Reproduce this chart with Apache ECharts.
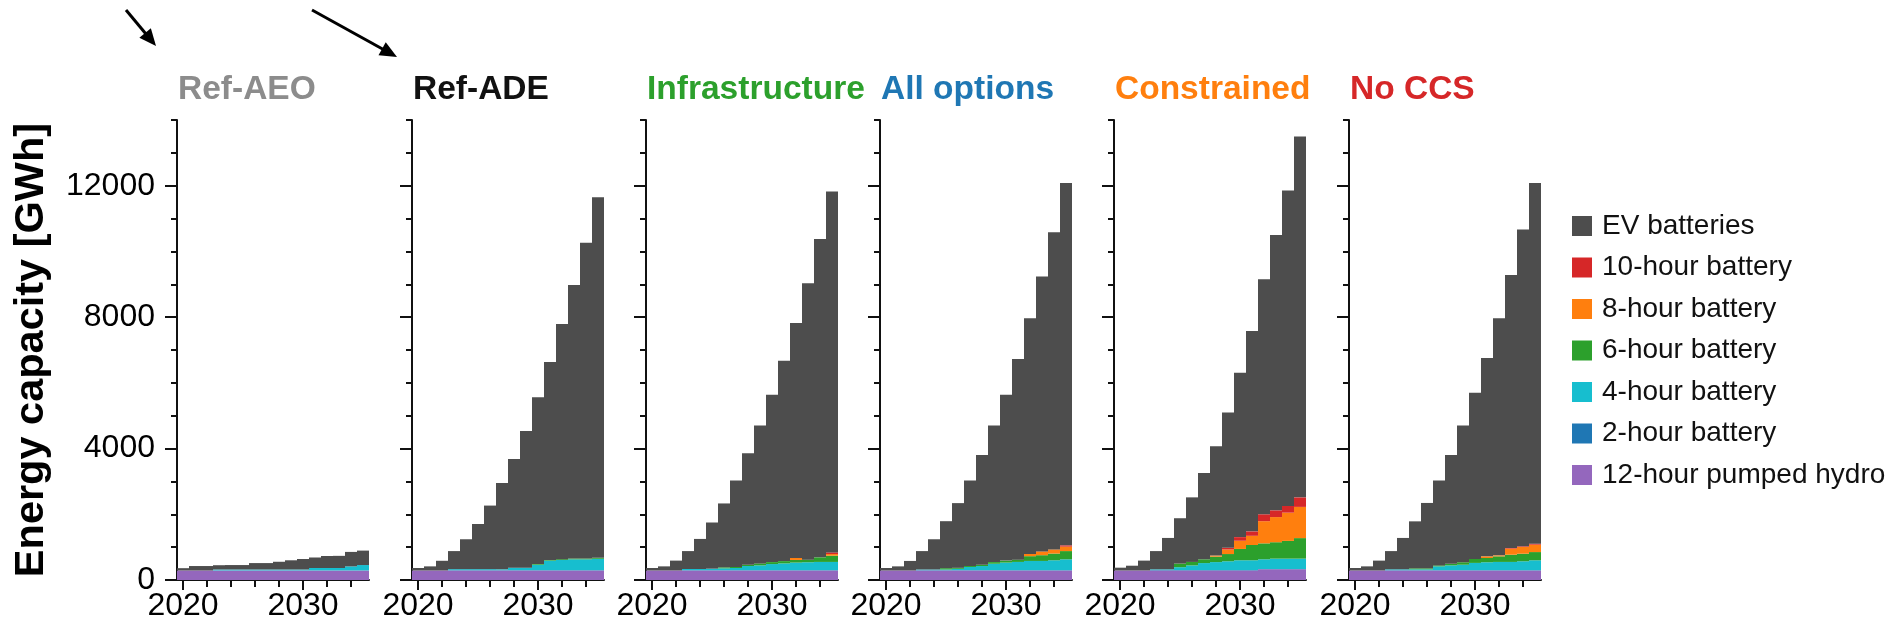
<!DOCTYPE html>
<html>
<head>
<meta charset="utf-8">
<script src="https://cdn.jsdelivr.net/npm/echarts@6/dist/echarts.min.js"></script>
<style>
  html, body { margin: 0; padding: 0; background: #ffffff; }
  #chart { width: 1887px; height: 633px; }
</style>
</head>
<body>
<div id="chart"></div>
<script>
// ---- categories, labels and tick values ----
const years = ['2020','2021','2022','2023','2024','2025','2026','2027','2028','2029','2030','2031','2032','2033','2034','2035'];
const xTickYears = ['2020','2022','2024','2026','2028','2030','2032','2034'];
const xLabelYears = ['2020','2030'];
const yMinorTicks = [0,1000,2000,3000,4000,5000,6000,7000,8000,9000,10000,11000,12000,13000,14000];
const yMajorTicks = [0,4000,8000,12000];
const yLabelValues = [0,4000,8000,12000];

const scenarios = ['Ref-AEO','Ref-ADE','Infrastructure','All options','Constrained','No CCS'];
const scenarioColors = ['#8c8c8c','#111111','#2ca02c','#1f77b4','#ff7f0e','#d62728'];

// stacking order, bottom to top
const techNames = ['12-hour pumped hydro','2-hour battery','4-hour battery','6-hour battery','8-hour battery','10-hour battery','EV batteries'];
const techColors = ['#9467bd','#1f77b4','#17becf','#2ca02c','#ff7f0e','#d62728','#4d4d4d'];
const legendOrder = ['EV batteries','10-hour battery','8-hour battery','6-hour battery','4-hour battery','2-hour battery','12-hour pumped hydro'];

// ---- energy capacity [GWh] by year ----
// Ref-AEO
const aeoHydro = [290,290,290,290,290,290,290,290,290,290,290,290,290,290,290,290];
const aeoH2    = [0,0,0,0,0,0,0,0,0,0,0,0,0,0,0,0];
const aeoH4    = [0,0,0,30,30,30,30,30,30,30,30,75,75,75,125,165];
const aeoH6    = [0,0,0,0,0,0,0,0,0,0,0,0,0,0,0,0];
const aeoH8    = [0,0,0,0,0,0,0,0,0,0,0,0,0,0,0,0];
const aeoH10   = [0,0,0,0,0,0,0,0,0,0,0,0,0,0,0,0];
const aeoEV    = [70,135,135,130,135,135,195,195,235,280,320,320,365,370,440,440];

// Ref-ADE
const adeHydro = [290,290,290,290,290,290,290,290,290,290,290,290,290,290,290,290];
const adeH2    = [0,0,0,10,10,10,10,10,10,10,10,10,10,10,10,10];
const adeH4    = [0,0,0,30,30,30,30,25,75,75,165,290,310,330,330,345];
const adeH6    = [0,0,0,0,0,0,0,0,0,0,25,20,25,25,25,30];
const adeH8    = [0,0,0,0,0,0,0,0,0,0,0,0,0,0,0,0];
const adeH10   = [0,0,0,0,0,0,0,0,0,0,0,0,0,0,0,0];
const adeEV    = [75,125,295,550,910,1375,1935,2625,3310,4160,5070,6025,7155,8325,9610,10975];

// Infrastructure
const infHydro = [290,290,290,290,290,290,290,290,290,290,290,290,290,290,290,290];
const infH2    = [0,0,0,10,10,10,10,10,10,10,10,10,10,10,10,10];
const infH4    = [0,0,0,35,35,45,55,65,125,145,185,205,230,240,250,250];
const infH6    = [0,0,0,0,0,0,30,30,40,60,60,70,80,80,140,190];
const infH8    = [0,0,0,0,0,0,0,0,0,0,0,0,60,0,0,50];
const infH10   = [0,0,0,0,0,0,0,0,0,0,0,0,0,0,0,50];
const infEV    = [75,125,300,545,915,1405,1945,2635,3395,4200,5095,6100,7150,8410,9685,10985];

// All options
const allHydro = [290,290,290,290,290,290,290,290,290,290,290,290,290,290,290,290];
const allH2    = [0,0,0,10,10,10,10,10,10,10,10,10,10,10,10,10];
const allH4    = [0,0,0,20,20,20,40,95,125,195,230,250,280,280,300,330];
const allH6    = [0,0,0,0,0,40,30,30,40,50,60,70,145,175,205,250];
const allH8    = [0,0,0,0,0,0,0,0,0,0,0,0,70,115,125,135];
const allH10   = [0,0,0,0,0,0,0,0,0,0,0,0,0,0,0,40];
const allEV    = [75,125,290,560,920,1430,1970,2605,3340,4160,5050,6105,7170,8370,9655,11030];

// Constrained
const conHydro = [290,290,290,290,290,290,290,290,290,290,290,290,330,330,330,330];
const conH2    = [0,0,0,15,15,15,15,15,15,15,15,15,0,0,0,0];
const conH4    = [0,0,0,20,20,85,140,210,240,265,295,295,300,320,320,320];
const conH6    = [0,0,0,0,0,110,105,115,165,220,345,465,485,500,540,625];
const conH8    = [0,0,0,0,0,0,0,0,35,140,250,280,675,765,860,950];
const conH10   = [0,0,0,0,0,0,0,0,0,50,110,135,210,205,205,290];
const conEV    = [85,145,300,555,955,1380,1965,2630,3325,4120,5005,6100,7155,8380,9600,10985];

// No CCS
const nccHydro = [290,290,290,290,290,290,290,290,290,290,290,290,290,290,290,290];
const nccH2    = [0,0,0,10,10,10,10,10,10,10,10,10,10,10,10,10];
const nccH4    = [0,0,0,25,25,25,25,115,145,165,220,240,250,250,270,300];
const nccH6    = [0,0,0,0,0,30,30,30,50,75,120,130,170,220,230,250];
const nccH8    = [0,0,0,0,0,0,0,0,0,0,0,50,30,185,205,225];
const nccH10   = [0,0,0,0,0,0,0,0,0,0,0,0,0,20,20,30];
const nccEV    = [75,125,300,555,955,1430,1990,2585,3310,4165,5060,6035,7215,8305,9640,10980];

const panelData = [
  [aeoHydro, aeoH2, aeoH4, aeoH6, aeoH8, aeoH10, aeoEV],
  [adeHydro, adeH2, adeH4, adeH6, adeH8, adeH10, adeEV],
  [infHydro, infH2, infH4, infH6, infH8, infH10, infEV],
  [allHydro, allH2, allH4, allH6, allH8, allH10, allEV],
  [conHydro, conH2, conH4, conH6, conH8, conH10, conEV],
  [nccHydro, nccH2, nccH4, nccH6, nccH8, nccH10, nccEV]
];

// ---- layout ----
// Panels sit on whole pixels with a 12px band per year, so neighbouring
// bars share crisp edges and the stacks read as continuous steps.
const FONT = '"Liberation Sans", Arial, Helvetica, sans-serif';
const INK = '#111111';
const gridLefts = [177, 412, 646, 880, 1114, 1349];
const gridWidth = 192;
const gridTop = 120;
const gridHeight = 460;

const grids = [], xAxes = [], yAxes = [], series = [], titles = [];

gridLefts.forEach((left, p) => {
  grids.push({ left: left, top: gridTop, width: gridWidth, height: gridHeight });

  titles.push({
    text: scenarios[p], left: left + 1, top: 73, padding: 0,
    textStyle: { fontFamily: FONT, fontSize: 33.5, fontWeight: 'bold', color: scenarioColors[p] }
  });

  // main x axis: line + short ticks every two years
  xAxes.push({
    type: 'category', gridIndex: p, data: years, position: 'bottom', boundaryGap: true,
    axisLine: { show: true, lineStyle: { color: INK, width: 2 } },
    axisTick: { show: true, alignWithLabel: true, length: 7, lineStyle: { color: INK, width: 2 },
                interval: (i, v) => xTickYears.includes(v) },
    axisLabel: { show: false },
    splitLine: { show: false }
  });
  // decade x axis: longer ticks + labels
  xAxes.push({
    type: 'category', gridIndex: p, data: years, position: 'bottom', boundaryGap: true,
    axisLine: { show: false },
    axisTick: { show: true, alignWithLabel: true, length: 10, lineStyle: { color: INK, width: 2 },
                interval: (i, v) => xLabelYears.includes(v) },
    axisLabel: { show: true, interval: (i, v) => xLabelYears.includes(v), margin: 10,
                 fontFamily: FONT, fontSize: 32, color: '#000' },
    splitLine: { show: false }
  });

  // main y axis: line + minor ticks every 1000
  yAxes.push({
    type: 'value', gridIndex: p, min: 0, max: 14000, position: 'left',
    axisLine: { show: true, lineStyle: { color: INK, width: 2 } },
    axisTick: { show: true, length: 6, lineStyle: { color: INK, width: 2 }, customValues: yMinorTicks },
    axisLabel: { show: p === 0, customValues: yLabelValues, margin: 22,
                 formatter: (v) => String(v),
                 fontFamily: FONT, fontSize: 32, color: '#000' },
    splitLine: { show: false },
    name: p === 0 ? 'Energy capacity [GWh]' : '',
    nameLocation: 'middle', nameGap: 124,
    nameTextStyle: { fontFamily: FONT, fontSize: 41.5, fontWeight: 'bold', color: '#000' }
  });
  // major y ticks every 4000
  yAxes.push({
    type: 'value', gridIndex: p, min: 0, max: 14000, position: 'left',
    axisLine: { show: false },
    axisTick: { show: true, length: 12, lineStyle: { color: INK, width: 2 }, customValues: yMajorTicks },
    axisLabel: { show: false },
    splitLine: { show: false }
  });

  techNames.forEach((name, k) => {
    series.push({
      type: 'bar', name: name, stack: 'panel' + p,
      xAxisIndex: p * 2, yAxisIndex: p * 2,
      data: panelData[p][k],
      barWidth: '100%', barCategoryGap: '0%',
      itemStyle: { color: techColors[k], borderWidth: 0 },
      emphasis: { disabled: true },
      silent: true
    });
  });
});

// ---- pointer arrows above the first two panels ----
function arrowParts(x1, y1, x2, y2) {
  const dx = x2 - x1, dy = y2 - y1, len = Math.hypot(dx, dy);
  const ux = dx / len, uy = dy / len;
  const headLen = 17, halfW = 7.5;
  const bx = x2 - ux * headLen, by = y2 - uy * headLen;
  return [
    { type: 'line', shape: { x1: x1, y1: y1, x2: bx + ux * 2, y2: by + uy * 2 },
      style: { stroke: '#000', lineWidth: 3 } },
    { type: 'polygon', shape: { points: [[x2, y2], [bx - uy * halfW, by + ux * halfW], [bx + uy * halfW, by - ux * halfW]] },
      style: { fill: '#000' } }
  ];
}
const graphics = [].concat(arrowParts(126, 10, 156, 46), arrowParts(312, 10, 397, 57));

const chart = echarts.init(document.getElementById('chart'), null, { renderer: 'canvas' });
chart.setOption({
  animation: false,
  backgroundColor: '#ffffff',
  title: titles,
  grid: grids,
  xAxis: xAxes,
  yAxis: yAxes,
  series: series,
  graphic: graphics,
  legend: {
    data: legendOrder, orient: 'vertical', left: 1567, top: 207,
    icon: 'rect', itemWidth: 20, itemHeight: 20, itemGap: 13.5,
    selectedMode: false,
    textStyle: { fontFamily: FONT, fontSize: 28, color: '#111', lineHeight: 28, padding: [0, 0, 0, 5] }
  }
});
</script>
</body>
</html>
